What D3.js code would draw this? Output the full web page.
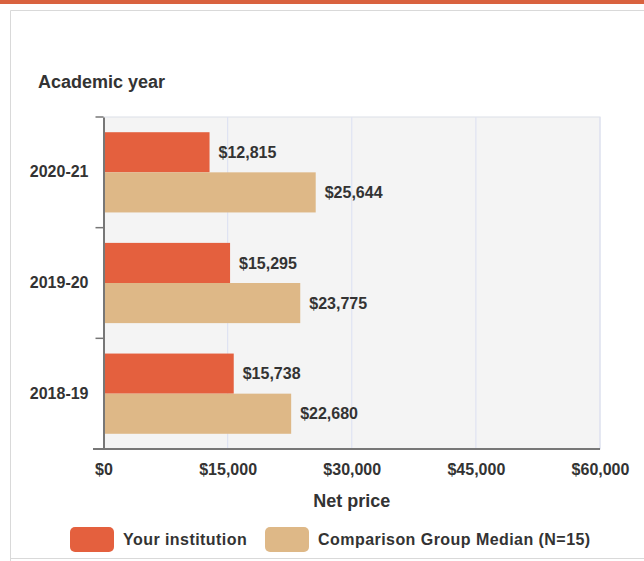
<!DOCTYPE html>
<html lang="en">
<head>
<meta charset="UTF-8">
<title>Net price</title>
<script src="https://d3js.org/d3.v7.min.js"></script>
<style>
    body { margin: 0; background: #fff; font-family: "Liberation Sans", Arial, sans-serif; }
    svg { display: block; }
    .lbl { font-weight: bold; fill: #333; }
</style>
</head>
<body>
<svg width="644" height="561"></svg>
<script>
    // data
    const years = ["2020-21", "2019-20", "2018-19"];
    const series = ["Your institution", "Comparison Group Median (N=15)"];
    const yourValues = [12815, 15295, 15738];
    const medianValues = [25644, 23775, 22680];
    const xTicks = [0, 15000, 30000, 45000, 60000];
    const colors = ["#e4603e", "#deb887"];

    const svg = d3.select("svg");

    // top stripe + card frame
    svg.append("rect").attr("x", 0).attr("y", 0).attr("width", 644).attr("height", 4).attr("fill", "#d9623f");
    svg.append("path")
        .attr("d", "M10.5,561 V10.5 H644 M10.5,558.5 H644")
        .attr("fill", "none").attr("stroke", "#d9d9d9");

    const plot = { left: 103.5, right: 600, top: 117, bottom: 449 };

    const x = d3.scaleLinear().domain([0, 60000]).range([plot.left, plot.right]);
    const y = d3.scaleBand().domain(years).range([plot.top, plot.bottom])
        .paddingInner(0.275).paddingOuter(0.1375);
    const ySub = d3.scaleBand().domain([0, 1]).range([0, y.bandwidth()]);

    // background
    svg.append("rect")
        .attr("x", plot.left).attr("y", plot.top)
        .attr("width", plot.right - plot.left).attr("height", plot.bottom - plot.top)
        .attr("fill", "#f4f4f4").attr("stroke", "#dcdfe8");

    // grid lines
    svg.append("g").selectAll("line")
        .data(xTicks.slice(1))
        .join("line")
        .attr("x1", d => x(d)).attr("x2", d => x(d))
        .attr("y1", plot.top).attr("y2", plot.bottom)
        .attr("stroke", "#dfe3f2").attr("stroke-width", 1.2);

    // bars
    const rows = years.map((yr, i) => ({ yr, vals: [yourValues[i], medianValues[i]] }));
    const grp = svg.append("g").selectAll("g").data(rows).join("g")
        .attr("transform", d => `translate(0,${y(d.yr)})`);
    grp.selectAll("rect")
        .data(d => d.vals)
        .join("rect")
        .attr("x", x(0))
        .attr("y", (d, i) => ySub(i))
        .attr("width", d => x(d) - x(0))
        .attr("height", ySub.bandwidth())
        .attr("fill", (d, i) => colors[i]);
    grp.selectAll("text")
        .data(d => d.vals)
        .join("text")
        .attr("class", "lbl")
        .attr("x", d => x(d) + 9)
        .attr("y", (d, i) => ySub(i) + ySub.bandwidth() / 2)
        .attr("dy", "0.35em")
        .attr("font-size", 16)
        .text(d => d3.format("$,")(d));

    // axes
    const xAxis = svg.append("g")
        .attr("transform", `translate(0,${plot.bottom})`)
        .call(d3.axisBottom(x).tickValues(xTicks).tickSize(0).tickPadding(15).tickFormat(d3.format("$,")));
    xAxis.select(".domain").remove();
    xAxis.selectAll("text").attr("class", "lbl").attr("font-size", 16)
        .attr("font-family", "Liberation Sans, Arial, sans-serif");
    svg.append("line")
        .attr("x1", 93).attr("x2", plot.right)
        .attr("y1", plot.bottom).attr("y2", plot.bottom)
        .attr("stroke", "#777").attr("stroke-width", 2);

    const yAxis = svg.append("g")
        .attr("transform", `translate(${plot.left},0)`)
        .call(d3.axisLeft(y).tickSize(0).tickPadding(15));
    yAxis.select(".domain").attr("stroke", "#777").attr("stroke-width", 2);
    yAxis.selectAll("text").attr("class", "lbl").attr("font-size", 16)
        .attr("font-family", "Liberation Sans, Arial, sans-serif");

    // small ticks at band boundaries on the y axis
    const bounds = [plot.top].concat(years.slice(1).map(yr => y(yr) - y.step() * y.paddingInner() / 2));
    svg.append("g").selectAll("line").data(bounds).join("line")
        .attr("x1", plot.left - 8).attr("x2", plot.left)
        .attr("y1", d => d).attr("y2", d => d)
        .attr("stroke", "#777").attr("stroke-width", 1.5);

    // titles
    svg.append("text").attr("class", "lbl").attr("x", 38).attr("y", 88)
        .attr("font-size", 18).text("Academic year");
    svg.append("text").attr("class", "lbl").attr("x", (plot.left + plot.right) / 2).attr("y", 507)
        .attr("text-anchor", "middle").attr("font-size", 18).text("Net price");

    // legend
    const legendX = [70, 265];
    const leg = svg.append("g").selectAll("g").data(series).join("g")
        .attr("transform", (d, i) => `translate(${legendX[i]},527)`);
    leg.append("rect").attr("width", 44).attr("height", 25).attr("rx", 5)
        .attr("fill", (d, i) => colors[i]);
    leg.append("text").attr("class", "lbl").attr("x", 53).attr("y", 12.5).attr("dy", "0.35em")
        .attr("font-size", 16).style("letter-spacing", "0.45px").text(d => d);
</script>
</body>
</html>
